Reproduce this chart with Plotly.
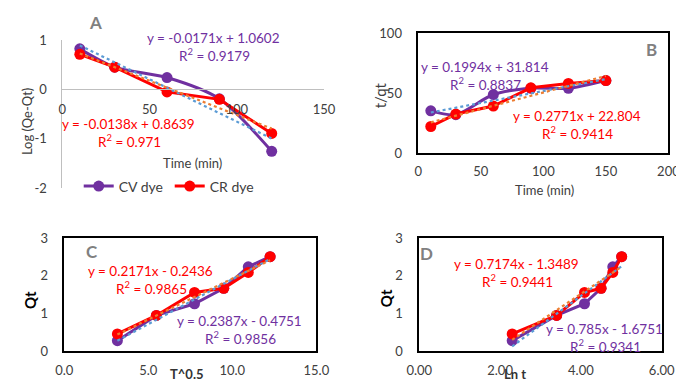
import numpy as np
import plotly.graph_objects as go

W, H = 684, 379

# ---------------- data ----------------
tA = [10, 30, 60, 90, 120]
A_cv = [0.82, 0.45, 0.24, -0.19, -1.25]
A_cr = [0.71, 0.45, -0.05, -0.20, -0.89]

tB = [10, 30, 60, 90, 120, 150]
B_cv = [35.2, 32.0, 48.8, 54.0, 54.0, 60.5]
B_cr = [22.1, 32.5, 39.2, 54.4, 58.1, 60.5]

C_x = [3.16, 5.48, 7.75, 9.49, 10.95, 12.25]
D_x = [2.30, 3.40, 4.09, 4.50, 4.79, 5.01]
Qt_cv = [0.28, 0.95, 1.26, 1.67, 2.24, 2.51]
Qt_cr = [0.46, 0.95, 1.56, 1.67, 2.09, 2.51]

# trendline (slope, intercept)
A_fit_cv = (-0.0171, 1.0602)
A_fit_cr = (-0.0138, 0.8639)
B_fit_cv = (0.1994, 31.814)
B_fit_cr = (0.2771, 22.804)
C_fit_cv = (0.2387, -0.4751)
C_fit_cr = (0.2171, -0.2436)
D_fit_cv = (0.785, -1.6751)
D_fit_cr = (0.7174, -1.3489)

A_eq_cv = ["y = -0.0171x + 1.0602", "R<sup>2</sup> = 0.9179"]
A_eq_cr = ["y = -0.0138x + 0.8639", "R<sup>2</sup> = 0.971"]
B_eq_cv = ["y = 0.1994x + 31.814", "R<sup>2</sup> = 0.8837"]
B_eq_cr = ["y = 0.2771x + 22.804", "R<sup>2</sup> = 0.9414"]
C_eq_cr = ["y = 0.2171x - 0.2436", "R<sup>2</sup> = 0.9865"]
C_eq_cv = ["y = 0.2387x - 0.4751", "R<sup>2</sup> = 0.9856"]
D_eq_cr = ["y = 0.7174x - 1.3489", "R<sup>2</sup> = 0.9441"]
D_eq_cv = ["y = 0.785x - 1.6751", "R<sup>2</sup> = 0.9341"]

A_yticks = [-2, -1, 0, 1]
A_yticklabels = ["-2", "-1", "0", "1"]

# ---------------- style ----------------
PURPLE = "#7030A0"
RED = "#FF0000"
BLUE_T = "#5B9BD5"
ORANGE_T = "#ED7D31"
GREY = "#808080"
TXT = "#404040"
FONT = "Lato"


def px(x, y):
    return x / W, 1 - y / H


fig = go.Figure()


def add_panel(ax, x, cv, cr, fit_cv, fit_cr, legend=False, smooth_cv=False):
    xa, ya = ("x", "y") if ax == 1 else (f"x{ax}", f"y{ax}")
    fig.add_trace(go.Scatter(
        x=x, y=cv, mode="lines+markers", name="CV dye", xaxis=xa, yaxis=ya,
        line=dict(color=PURPLE, width=3, shape="spline" if smooth_cv else "linear", smoothing=0.8),
        marker=dict(color=PURPLE, size=11), showlegend=legend))
    fig.add_trace(go.Scatter(
        x=x, y=cr, mode="lines+markers", name="CR dye", xaxis=xa, yaxis=ya,
        line=dict(color=RED, width=3),
        marker=dict(color=RED, size=11), showlegend=legend))
    xs = np.array([x[0], x[-1]], dtype=float)
    for (m, b), col in ((fit_cv, BLUE_T), (fit_cr, ORANGE_T)):
        fig.add_trace(go.Scatter(
            x=xs, y=m * xs + b, mode="lines", xaxis=xa, yaxis=ya,
            line=dict(color=col, width=2.2, dash="dot"), showlegend=False,
            hoverinfo="skip"))


add_panel(1, tA, A_cv, A_cr, A_fit_cv, A_fit_cr, legend=True, smooth_cv=True)
add_panel(2, tB, B_cv, B_cr, B_fit_cv, B_fit_cr, smooth_cv=True)
add_panel(3, C_x, Qt_cv, Qt_cr, C_fit_cv, C_fit_cr)
add_panel(4, D_x, Qt_cv, Qt_cr, D_fit_cv, D_fit_cr)

tickfont = dict(family=FONT, size=13, color=TXT)


def dom_x(l, r):
    return [l / W, r / W]


def dom_y(bot, top):
    return [1 - bot / H, 1 - top / H]


boxx = dict(showline=True, linecolor="black", linewidth=1.5, mirror=True,
            showgrid=False, zeroline=False, ticks="", tickfont=tickfont,
            ticklabelstandoff=6)
boxy = dict(boxx, ticklabelstandoff=12)

# Panel A (no box, x axis crossing at y=0)
fig.update_layout(
    xaxis=dict(domain=dom_x(43, 315), range=[0, 150], dtick=50, anchor="free",
               position=1 - 76.7 / H, showline=True, linecolor="#BFBFBF", linewidth=1,
               showgrid=False, zeroline=False, ticks="", tickfont=tickfont,
               ticklabelstandoff=8),
    yaxis=dict(domain=dom_y(180, 25), range=[-2, 1], tickvals=A_yticks,
               ticktext=A_yticklabels, anchor="x",
               showline=True, linecolor="#BFBFBF", linewidth=1, showgrid=False,
               zeroline=False, ticks="", tickfont=tickfont, ticklabelstandoff=12),
    xaxis2=dict(domain=dom_x(413, 673), range=[0, 200], dtick=50, anchor="y2", **boxx),
    yaxis2=dict(domain=dom_y(143, 18), range=[0, 100], dtick=50, anchor="x2", **boxy),
    xaxis3=dict(domain=dom_x(45, 307), range=[0, 15], dtick=5, tickformat=".1f", anchor="y3", **boxx),
    yaxis3=dict(domain=dom_y(350, 232), range=[0, 3], dtick=1, anchor="x3", **boxy),
    xaxis4=dict(domain=dom_x(414, 666), range=[0, 6], dtick=2, tickformat=".2f", anchor="y4", **boxx),
    yaxis4=dict(domain=dom_y(350, 232), range=[0, 3], dtick=1, anchor="x4", **boxy),
)

anns = []


def txt(x, y, s, color, size=13, bold=False, angle=0):
    xx, yy = px(x, y)
    if bold:
        s = f"<b>{s}</b>"
    anns.append(dict(x=xx, y=yy, xref="paper", yref="paper", text=s, showarrow=False,
                     xanchor="center", yanchor="middle", textangle=angle,
                     font=dict(family=FONT, size=size, color=color)))


# equations
for (x, y), lines, col in [
    ((200, 23), A_eq_cv, PURPLE), ((112, 113), A_eq_cr, RED),
    ((482, 53), B_eq_cv, PURPLE), ((578, 104), B_eq_cr, RED),
    ((135, 266), C_eq_cr, RED), ((227, 318), C_eq_cv, PURPLE),
    ((515, 259), D_eq_cr, RED), ((607, 327), D_eq_cv, PURPLE),
]:
    txt(x, y, lines[0], col, 13.5)
    txt(x + 1, y + 18, lines[1], col, 13.5)

# panel letters
txt(77, 7, "A", GREY, 17, True)
txt(655, 35, "B", GREY, 17, True)
txt(74, 246, "C", GREY, 17, True)
txt(422, 248, "D", GREY, 17, True)

# axis titles
txt(7, 110, "Log (Qe-Qt)", TXT, 13, angle=-90)
txt(178, 154, "Time (min)", TXT, 13)
txt(374, 83, "t/qt", TXT, 15, angle=-90)
txt(544, 182, "Time (min)", TXT, 13)
txt(10, 297, "Qt", "black", 15, True, angle=-90)
txt(173, 374, "T^0.5", "#333333", 13, True)
txt(379, 295, "Qt", "black", 15, True, angle=-90)
txt(514, 374, "Ln t", "#333333", 13, True)

fig.update_layout(
    annotations=anns,
    width=W, height=H,
    margin=dict(l=0, r=0, t=0, b=0),
    paper_bgcolor="white", plot_bgcolor="white",
    font=dict(family=FONT, size=13, color=TXT),
    legend=dict(orientation="h", x=60 / W, y=1 - 178 / H, xanchor="left", yanchor="middle",
                font=dict(family=FONT, size=14, color=TXT), bgcolor="rgba(0,0,0,0)",
                entrywidth=46, entrywidthmode="pixels", itemwidth=30),
)

fig.write_html("out.html")
